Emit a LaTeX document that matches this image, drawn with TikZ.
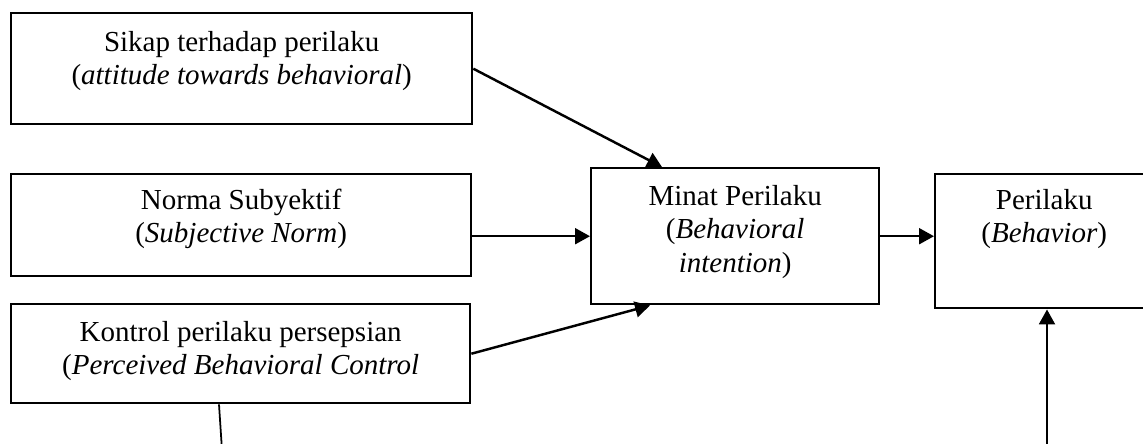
\documentclass[tikz,border=0pt]{standalone}
\usepackage{fontspec}
\setmainfont{Liberation Serif}
\usetikzlibrary{arrows.meta,calc}
\tikzset{
  box/.style n args={3}{draw, line width=1.4pt, align=center, inner sep=0pt,
    anchor=north west, font=\fontsize{16.5}{19}\selectfont,
    minimum width=#1, text height=#2, text depth=#3},
  link/.style={line width=1.4pt, -{Triangle[length=8.5pt,width=9pt]}},
}
\begin{document}
\begin{tikzpicture}[x=0.02cm, y=-0.02cm]
  \path[use as bounding box, clip] (0,0) rectangle (1143,443);
  % input boxes
  \node[box={9.22cm}{1.43cm}{0.79cm}] (sikap) at (10,12)
    {Sikap terhadap perilaku\\(\textit{attitude towards behavioral})};
  \node[box={9.2cm}{1.37cm}{0.67cm}] (norma) at (10,173)
    {Norma Subyektif\\(\textit{Subjective Norm})};
  \node[box={9.18cm}{1.41cm}{0.57cm}] (kontrol) at (10,303)
    {Kontrol perilaku persepsian\\(\textit{Perceived Behavioral Control}};
  % intention and behaviour
  \node[box={5.76cm}{2.08cm}{0.64cm}] (minat) at (590,167)
    {Minat Perilaku\\(\textit{Behavioral}\\\textit{intention})};
  \node[box={4.36cm}{1.37cm}{1.31cm}] (perilaku) at (934,173)
    {Perilaku\\(\textit{Behavior})};
  % arrows into minat
  \draw[link] (sikap.east) -- ($(minat.north west)+(72,0)$);
  \draw[link] (norma.east |- minat.west) -- (minat.west);
  \draw[link] (kontrol.east) -- ($(minat.south west)+(60,0)$);
  \draw[link] (minat.east) -- (minat.east -| perilaku.west);
  % lines leaving the picture at the bottom
  \coordinate (kontrolFoot) at (222,450);
  \coordinate (perilakuFoot) at (1047,450);
  \draw[line width=1pt] ($(kontrol.south west)+(209,0)$) -- (kontrolFoot);
  \draw[link] (perilakuFoot) -- (perilakuFoot |- perilaku.south);
\end{tikzpicture}
\end{document}
